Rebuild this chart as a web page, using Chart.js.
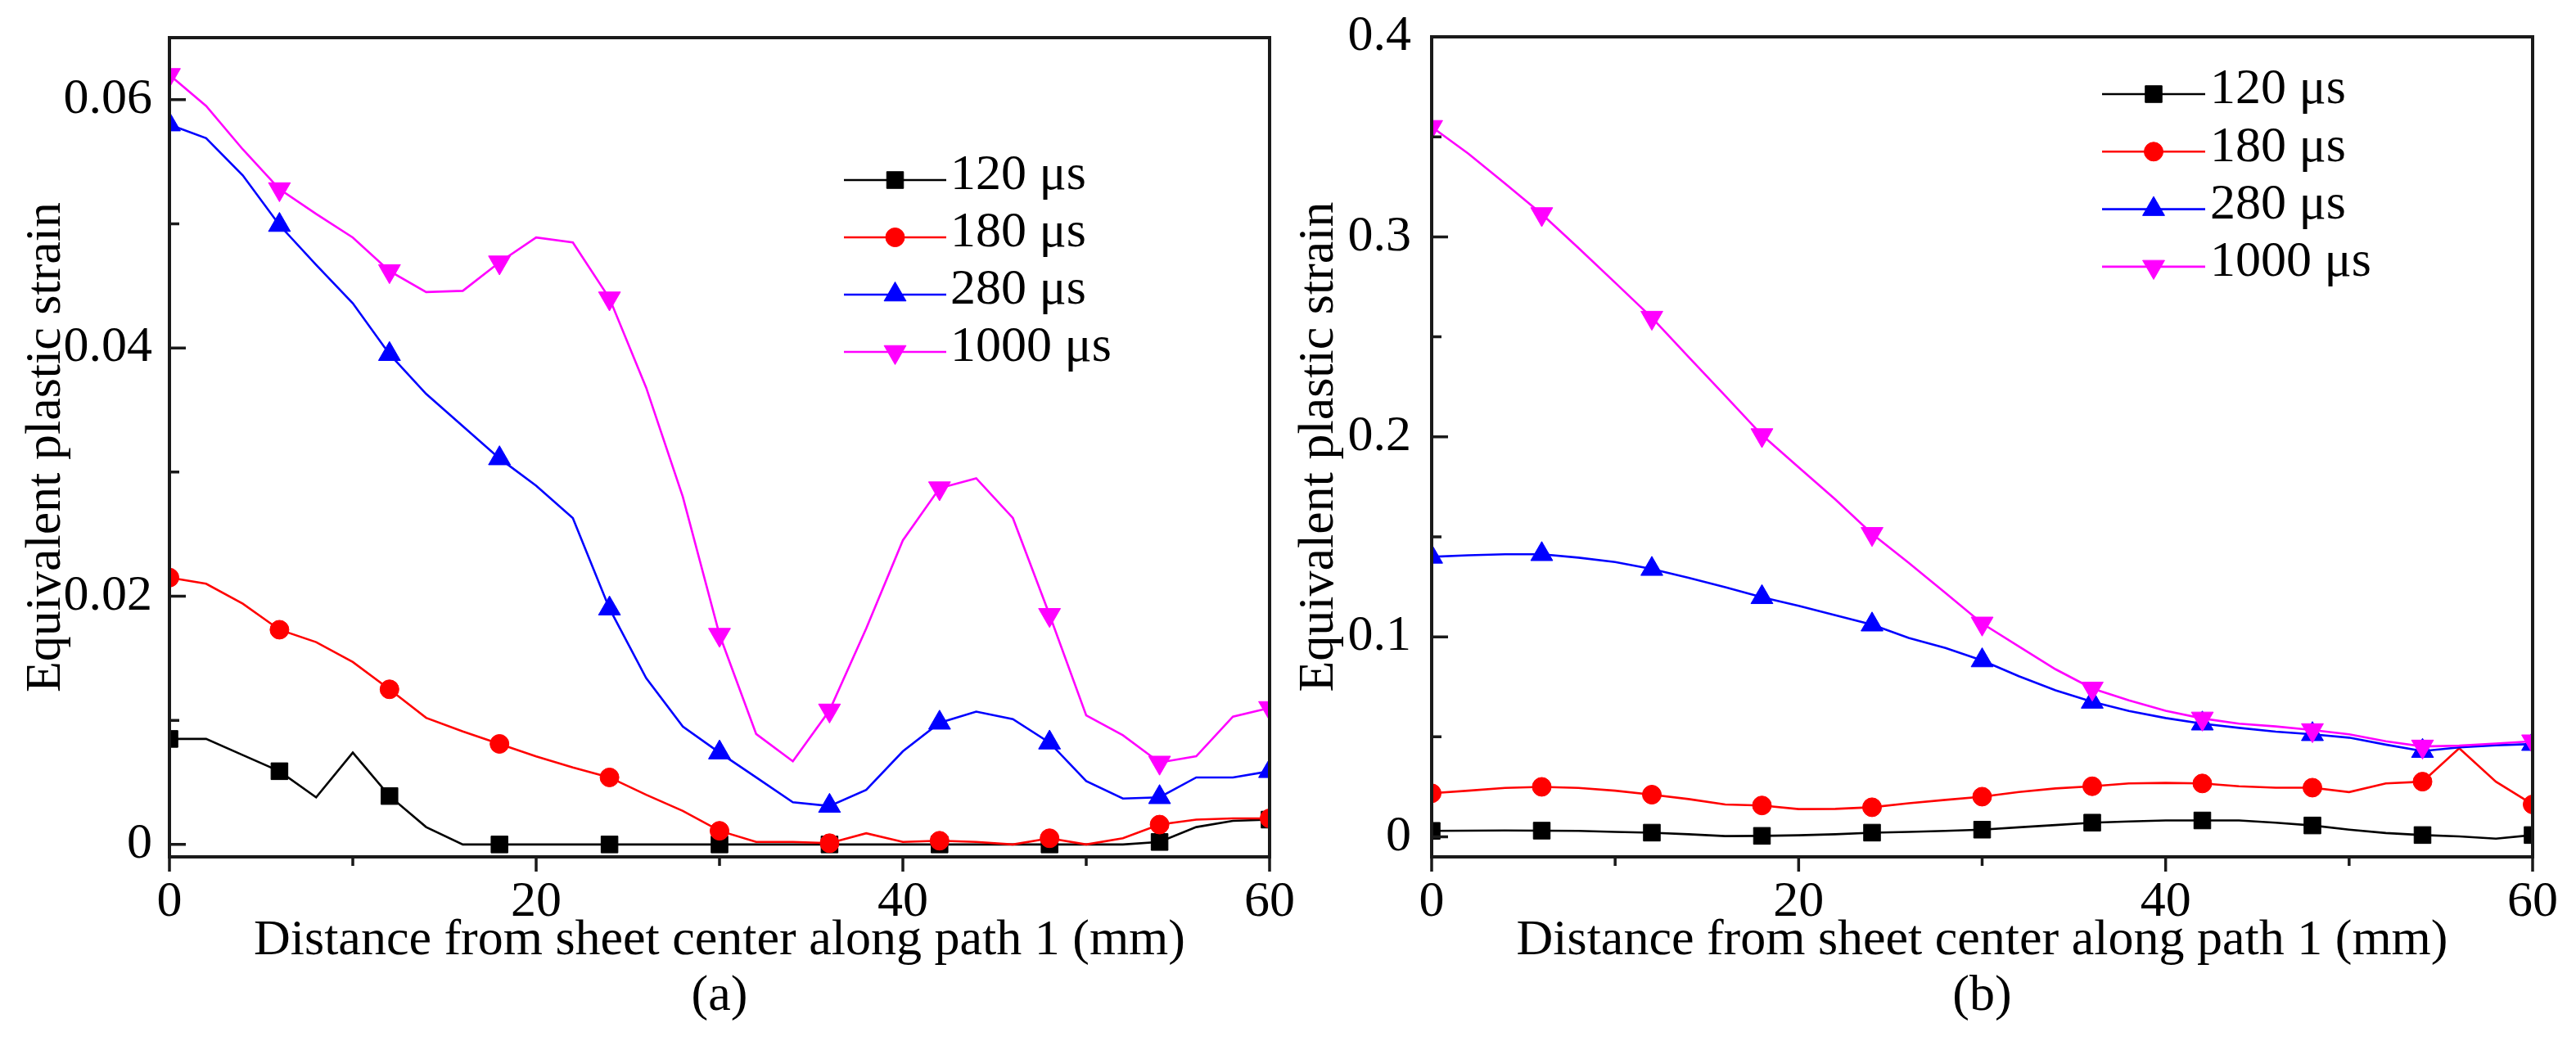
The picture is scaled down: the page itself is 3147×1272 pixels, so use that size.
<!DOCTYPE html>
<html><head><meta charset="utf-8">
<script src="https://cdn.jsdelivr.net/npm/chart.js@4.4.1/dist/chart.umd.min.js"></script>
<style>
html,body{margin:0;padding:0;background:#fff;}
body{width:3147px;height:1272px;position:relative;overflow:hidden;}
.panel{position:absolute;top:0;}
#wrapA{left:0;width:1600px;height:1272px;}
#wrapB{left:1560px;width:1587px;height:1272px;}
canvas{display:block;}
</style></head><body>
<div id="wrapA" class="panel"><canvas id="chartA" width="1600" height="1272"></canvas></div>
<div id="wrapB" class="panel"><canvas id="chartB" width="1587" height="1272"></canvas></div>
<script>
// ---------- data ----------
const distance = [0,2,4,6,8,10,12,14,16,18,20,22,24,26,28,30,32,34,36,38,40,42,44,46,48,50,52,54,56,58,60];
const seriesLabels = ['120 \u03bcs','180 \u03bcs','280 \u03bcs','1000 \u03bcs'];

// panel (a)
const a120  = [0.0085,0.0085,0.0072,0.0059,0.0038,0.0074,0.0039,0.0014,0.0000,0.0000,0.0000,0.0000,0.0000,0.0000,0.0000,0.0000,0.0000,0.0000,0.0000,0.0000,0.0000,0.0000,0.0000,0.0000,0.0000,0.0000,0.0000,0.0002,0.0014,0.0019,0.0020];
const a180  = [0.0215,0.0210,0.0194,0.0173,0.0163,0.0147,0.0125,0.0102,0.0091,0.0081,0.0071,0.0062,0.0054,0.0040,0.0027,0.0011,0.0002,0.0002,0.0001,0.0009,0.0002,0.0003,0.0002,0.0000,0.0005,0.0000,0.0005,0.0016,0.0020,0.0021,0.0021];
const a280  = [0.0580,0.0569,0.0539,0.0499,0.0467,0.0436,0.0395,0.0363,0.0337,0.0311,0.0289,0.0263,0.0190,0.0134,0.0095,0.0074,0.0054,0.0034,0.0031,0.0044,0.0075,0.0098,0.0107,0.0101,0.0082,0.0051,0.0037,0.0038,0.0054,0.0054,0.0059];
const a1000 = [0.0620,0.0595,0.0560,0.0528,0.0508,0.0489,0.0462,0.0445,0.0446,0.0469,0.0489,0.0485,0.0440,0.0368,0.0280,0.0169,0.0089,0.0067,0.0108,0.0174,0.0245,0.0287,0.0295,0.0263,0.0185,0.0104,0.0088,0.0066,0.0071,0.0103,0.0110];

// panel (b)
const b120  = [0.0030,0.0031,0.0032,0.0031,0.0030,0.0025,0.0021,0.0013,0.0004,0.0005,0.0008,0.0013,0.0021,0.0025,0.0030,0.0036,0.0048,0.0059,0.0071,0.0077,0.0082,0.0082,0.0082,0.0071,0.0057,0.0036,0.0019,0.0009,0.0002,-0.0009,0.0009];
const b180  = [0.0218,0.0231,0.0245,0.0250,0.0245,0.0231,0.0211,0.0189,0.0162,0.0157,0.0139,0.0140,0.0148,0.0168,0.0185,0.0201,0.0224,0.0242,0.0253,0.0267,0.0270,0.0267,0.0253,0.0246,0.0246,0.0224,0.0267,0.0276,0.0443,0.0276,0.0162];
const b280  = [0.1400,0.1408,0.1413,0.1413,0.1396,0.1374,0.1339,0.1295,0.1248,0.1198,0.1155,0.1108,0.1061,0.0995,0.0944,0.0882,0.0803,0.0733,0.0675,0.0629,0.0594,0.0566,0.0545,0.0526,0.0513,0.0496,0.0461,0.0429,0.0447,0.0458,0.0464];
const b1000 = [0.3550,0.3416,0.3267,0.3114,0.2944,0.2771,0.2596,0.2400,0.2205,0.2009,0.1848,0.1687,0.1515,0.1370,0.1220,0.1067,0.0952,0.0838,0.0742,0.0683,0.0630,0.0592,0.0566,0.0552,0.0534,0.0513,0.0478,0.0452,0.0456,0.0467,0.0478];

// axes
const xTicks = [0,20,40,60];
const xTickLabels = ['0','20','40','60'];
const xMinor = [10,30,50];
const yTicksA = [0,0.02,0.04,0.06];
const yTickLabelsA = ['0','0.02','0.04','0.06'];
const yMinorA = [0.01,0.03,0.05];
const yTicksB = [0,0.1,0.2,0.3,0.4];
const yTickLabelsB = ['0','0.1','0.2','0.3','0.4'];
const yMinorB = [0.05,0.15,0.25,0.35];
const xTitle = 'Distance from sheet center along path 1 (mm)';
const yTitle = 'Equivalent plastic strain';
const panelTags = ['(a)','(b)'];

// ---------- styles ----------
const FONT = "'Liberation Serif','Times New Roman',serif";
const FS = 62;
const colors = ['#000000','#ff0000','#0000ff','#ff00ff'];
const pStyles = ['rect','circle','triangle','triangle'];
const pRot = [0,0,0,180];
const pRad = [14.5,11.5,15.5,15.5];
const markerStep = 3;

Chart.defaults.font.family = FONT;
Chart.defaults.color = '#000';

function makeDatasets(arrs){
  return arrs.map((arr,i)=>({
    label: seriesLabels[i],
    data: distance.map((d,k)=>({x:d, y:arr[k]})),
    borderColor: colors[i],
    backgroundColor: colors[i],
    borderWidth: 2.6,
    pointStyle: pStyles[i],
    pointRotation: pRot[i],
    pointBackgroundColor: colors[i],
    pointBorderColor: colors[i],
    pointBorderWidth: 1,
    pointRadius: (c)=> (c.dataIndex % markerStep === 0 ? pRad[i] : 0),
    pointHoverRadius: 0,
    tension: 0,
    fill: false,
    clip: 2,
    order: 3 - i,
    legendRadius: pRad[i]
  }));
}

const framePlugin = {
  id: 'frameTicks',
  afterDraw(chart, args, o){
    const ctx = chart.ctx, ca = chart.chartArea, xs = chart.scales.x, ys = chart.scales.y;
    ctx.save();
    ctx.strokeStyle = '#1a1a1a';
    ctx.lineWidth = 3.5;
    ctx.beginPath();
    o.yMajor.forEach(v=>{const p=ys.getPixelForValue(v); ctx.moveTo(ca.left,p); ctx.lineTo(ca.left+o.yMajorLen,p);});
    o.yMinor.forEach(v=>{const p=ys.getPixelForValue(v); ctx.moveTo(ca.left,p); ctx.lineTo(ca.left+o.yMinorLen,p);});
    o.xMajor.forEach(v=>{const p=xs.getPixelForValue(v); ctx.moveTo(p,ca.bottom); ctx.lineTo(p,ca.bottom+o.xMajorLen);});
    o.xMinor.forEach(v=>{const p=xs.getPixelForValue(v); ctx.moveTo(p,ca.bottom); ctx.lineTo(p,ca.bottom+o.xMinorLen);});
    ctx.stroke();
    ctx.lineWidth = 4;
    ctx.strokeRect(ca.left, ca.top, ca.right-ca.left, ca.bottom-ca.top);
    // legend
    const lg = o.legend;
    chart.data.datasets.forEach((ds,i)=>{
      const yy = ca.top + lg.top + i*lg.gap;
      const x0 = ca.left + lg.left, x1 = x0 + lg.lineLen;
      ctx.strokeStyle = ds.borderColor; ctx.lineWidth = ds.borderWidth;
      ctx.beginPath(); ctx.moveTo(x0,yy); ctx.lineTo(x1,yy); ctx.stroke();
      ctx.fillStyle = ds.borderColor; ctx.lineWidth = 1;
      Chart.helpers.drawPoint(ctx,{pointStyle:ds.pointStyle, rotation:ds.pointRotation, radius:ds.legendRadius, borderWidth:1},(x0+x1)/2,yy);
      ctx.fillStyle = '#000';
      ctx.font = FS+'px '+FONT;
      ctx.textAlign = 'left'; ctx.textBaseline = 'middle';
      ctx.fillText(ds.label, x1 + lg.textGap, yy + lg.textDy);
    });
    ctx.restore();
  }
};

function makeChart(id, arrs, yMin, yMax, yTicks, yLabels, yMinor, yWidth, yTitlePad, yLabelPad, padTop, padRight, tag, legend){
  return new Chart(document.getElementById(id), {
    type: 'line',
    data: { datasets: makeDatasets(arrs) },
    plugins: [framePlugin],
    options: {
      responsive: false,
      animation: false,
      devicePixelRatio: 1,
      layout: { padding: { top: padTop, right: padRight, bottom: 0, left: 0 } },
      plugins: {
        legend: { display: false },
        tooltip: { enabled: false },
        frameTicks: {
          xMajor: xTicks, xMinor: xMinor, yMajor: yTicks, yMinor: yMinor,
          yMajorLen: 20, yMinorLen: 12, xMajorLen: 18, xMinorLen: 11,
          legend: legend
        }
      },
      scales: {
        x: {
          type: 'linear', min: 0, max: 60,
          afterBuildTicks: s => { s.ticks = xTicks.map(v=>({value:v})); },
          afterFit: s => { s.height = 225; s.paddingLeft = 0; s.paddingRight = 0; },
          grid: { display: false }, border: { display: false },
          ticks: { autoSkip: false, maxRotation: 0, padding: 11, color: '#000',
                   font: { size: FS, family: FONT }, callback: (v,i)=> xTickLabels[i] },
          title: { display: true, text: [xTitle, tag], color: '#000',
                   font: { size: FS, family: FONT, lineHeight: 1.1 }, padding: { top: 0, bottom: 20 } }
        },
        y: {
          type: 'linear', min: yMin, max: yMax,
          afterBuildTicks: s => { s.ticks = yTicks.map(v=>({value:v})); },
          afterFit: s => { s.width = yWidth; s.paddingTop = 0; s.paddingBottom = 0; },
          grid: { display: false }, border: { display: false },
          ticks: { autoSkip: false, padding: yLabelPad, color: '#000',
                   font: { size: FS, family: FONT }, callback: (v,i)=> yLabels[i] },
          title: { display: true, text: yTitle, color: '#000',
                   font: { size: FS, family: FONT, lineHeight: 1.2 }, padding: { top: yTitlePad, bottom: 0 } }
        }
      }
    }
  });
}

makeChart('chartA', [a120,a180,a280,a1000], -0.001, 0.065, yTicksA, yTickLabelsA, yMinorA, 207, 20, 13, 46, 49, panelTags[0],
  { left: 824, top: 174, gap: 70, lineLen: 125, textGap: 5, textDy: -5 });
makeChart('chartB', [b120,b180,b280,b1000], -0.01, 0.4, yTicksB, yTickLabelsB, yMinorB, 189, 15, 17, 45, 53, panelTags[1],
  { left: 819, top: 70, gap: 70.3, lineLen: 126, textGap: 6, textDy: -5 });
</script>
</body></html>
